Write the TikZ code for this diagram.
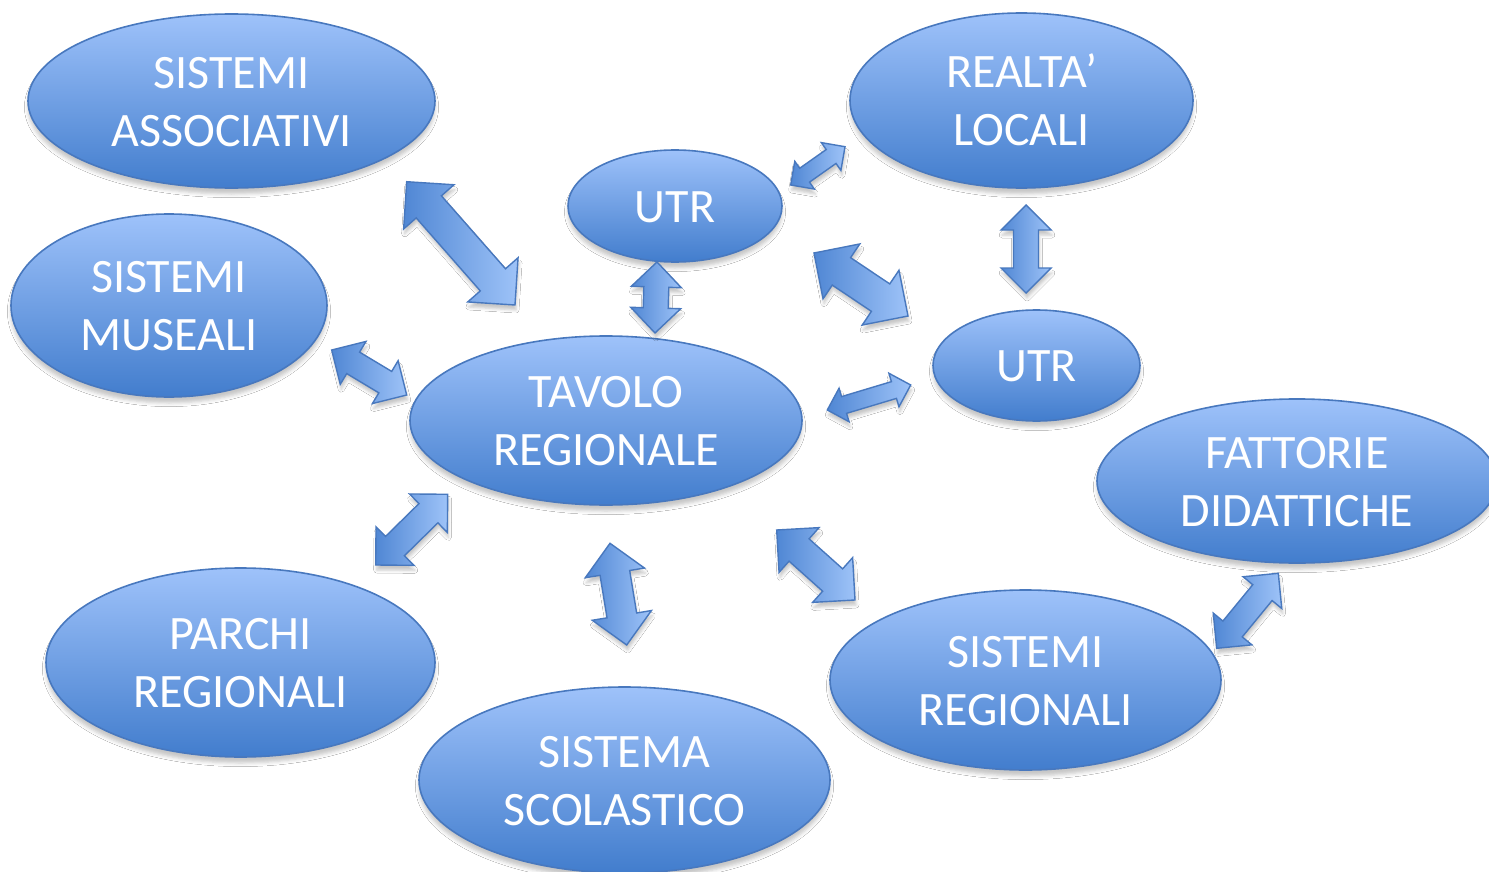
\documentclass[tikz,border=0pt]{standalone}
\usepackage{fontspec}
\setmainfont{Carlito}
\usetikzlibrary{shapes.geometric,calc,shadows.blur}
\definecolor{elltop}{RGB}{158,194,250}
\definecolor{ellbot}{RGB}{66,125,205}
\definecolor{edgeblue}{RGB}{72,120,190}
\definecolor{arrlight}{RGB}{158,195,248}
\definecolor{arrdark}{RGB}{80,135,212}
\tikzset{
  ell/.style={ellipse, draw=edgeblue, line width=0.8pt, top color=elltop, bottom color=ellbot,
    inner sep=0pt, text=white, align=center, font=\fontsize{24}{29}\selectfont,
    blur shadow={shadow xshift=0pt, shadow yshift=-3pt, shadow blur radius=1.8pt, shadow opacity=22}},
  blockarrow/.style={draw=edgeblue, line width=0.7pt, line join=miter, left color=arrdark, right color=arrlight,
    blur shadow={shadow xshift=0.5pt, shadow yshift=-2.5pt, shadow blur radius=1.5pt, shadow opacity=22}}
}
\newcommand\ellnode[6]{\node[ell, minimum width=#4pt, minimum height=#5pt] (#1) at (#2,#3) {\raisebox{-2.3pt}[\height][\depth]{\begin{tabular}{@{}c@{}}#6\end{tabular}}};}
\newcommand\barrow[3]{%
  \pgfmathsetmacro\bw{#3*0.25}%
  \pgfmathsetmacro\bs{#3*0.125}%
  \pgfmathsetmacro\bh{#3*0.25}%
  \path[blockarrow] (#1)
    -- ($(#1)!\bh pt!(#2)!\bw pt!90:(#2)$)
    -- ($(#1)!\bh pt!(#2)!\bs pt!90:(#2)$)
    -- ($(#2)!\bh pt!(#1)!\bs pt!-90:(#1)$)
    -- ($(#2)!\bh pt!(#1)!\bw pt!-90:(#1)$)
    -- (#2)
    -- ($(#2)!\bh pt!(#1)!\bw pt!90:(#1)$)
    -- ($(#2)!\bh pt!(#1)!\bs pt!90:(#1)$)
    -- ($(#1)!\bh pt!(#2)!\bs pt!-90:(#2)$)
    -- ($(#1)!\bh pt!(#2)!\bw pt!-90:(#2)$)
    -- cycle;
}
\begin{document}
\begin{tikzpicture}[x=0.5pt,y=-0.5pt]
\useasboundingbox[fill=white] (0,0) rectangle (1489,872);
% ellipses
\ellnode{assoc}{231.5}{101}{203.5}{87}{SISTEMI\\ASSOCIATIVI}
\ellnode{realta}{1021.5}{100.5}{171.5}{87.5}{REALTA’\\LOCALI}
\ellnode{utra}{675}{206}{107}{56}{UTR}
\ellnode{musei}{169}{305.5}{158}{91.5}{SISTEMI\\MUSEALI}
\ellnode{utrb}{1036.5}{365.5}{103.5}{55.5}{UTR}
\ellnode{tavolo}{606}{420.5}{196}{84.5}{TAVOLO\\REGIONALE}
\ellnode{fattorie}{1297}{481}{200}{82}{FATTORIE\\DIDATTICHE}
\ellnode{parchi}{240.5}{662.5}{194.5}{94.5}{PARCHI\\REGIONALI}
\ellnode{sisreg}{1025.5}{680}{195.5}{90}{SISTEMI\\REGIONALI}
\ellnode{scuola}{624.5}{780}{205.5}{93}{SISTEMA\\SCOLASTICO}
% arrow tips
\coordinate (a1s) at (406.7,181.7); \coordinate (a1e) at (515,305);
\coordinate (a2s) at (657,262);     \coordinate (a2e) at (655,333);
\coordinate (a3s) at (790.7,185);   \coordinate (a3e) at (845,146.7);
\coordinate (a4s) at (814,253);     \coordinate (a4e) at (908,316);
\coordinate (a5s) at (1026,205);    \coordinate (a5e) at (1026,293);
\coordinate (a6s) at (331.7,350);   \coordinate (a6e) at (406.7,395);
\coordinate (a7s) at (827.3,410);   \coordinate (a7e) at (910.7,385);
\coordinate (a8s) at (375.7,565);   \coordinate (a8e) at (447.7,494.3);
\coordinate (a9s) at (610,543.3);   \coordinate (a9e) at (626.7,645);
\coordinate (a10s) at (776.7,530);  \coordinate (a10e) at (855,600);
\coordinate (a11s) at (1216.7,648.3); \coordinate (a11e) at (1278.3,573.3);
% block arrows
\barrow{a1s}{a1e}{67}
\barrow{a2s}{a2e}{50}
\barrow{a3s}{a3e}{34}
\barrow{a4s}{a4e}{66}
\barrow{a5s}{a5e}{50}
\barrow{a6s}{a6e}{50}
\barrow{a7s}{a7e}{35}
\barrow{a8s}{a8e}{54}
\barrow{a9s}{a9e}{60}
\barrow{a10s}{a10e}{60}
\barrow{a11s}{a11e}{50}
\end{tikzpicture}
\end{document}
